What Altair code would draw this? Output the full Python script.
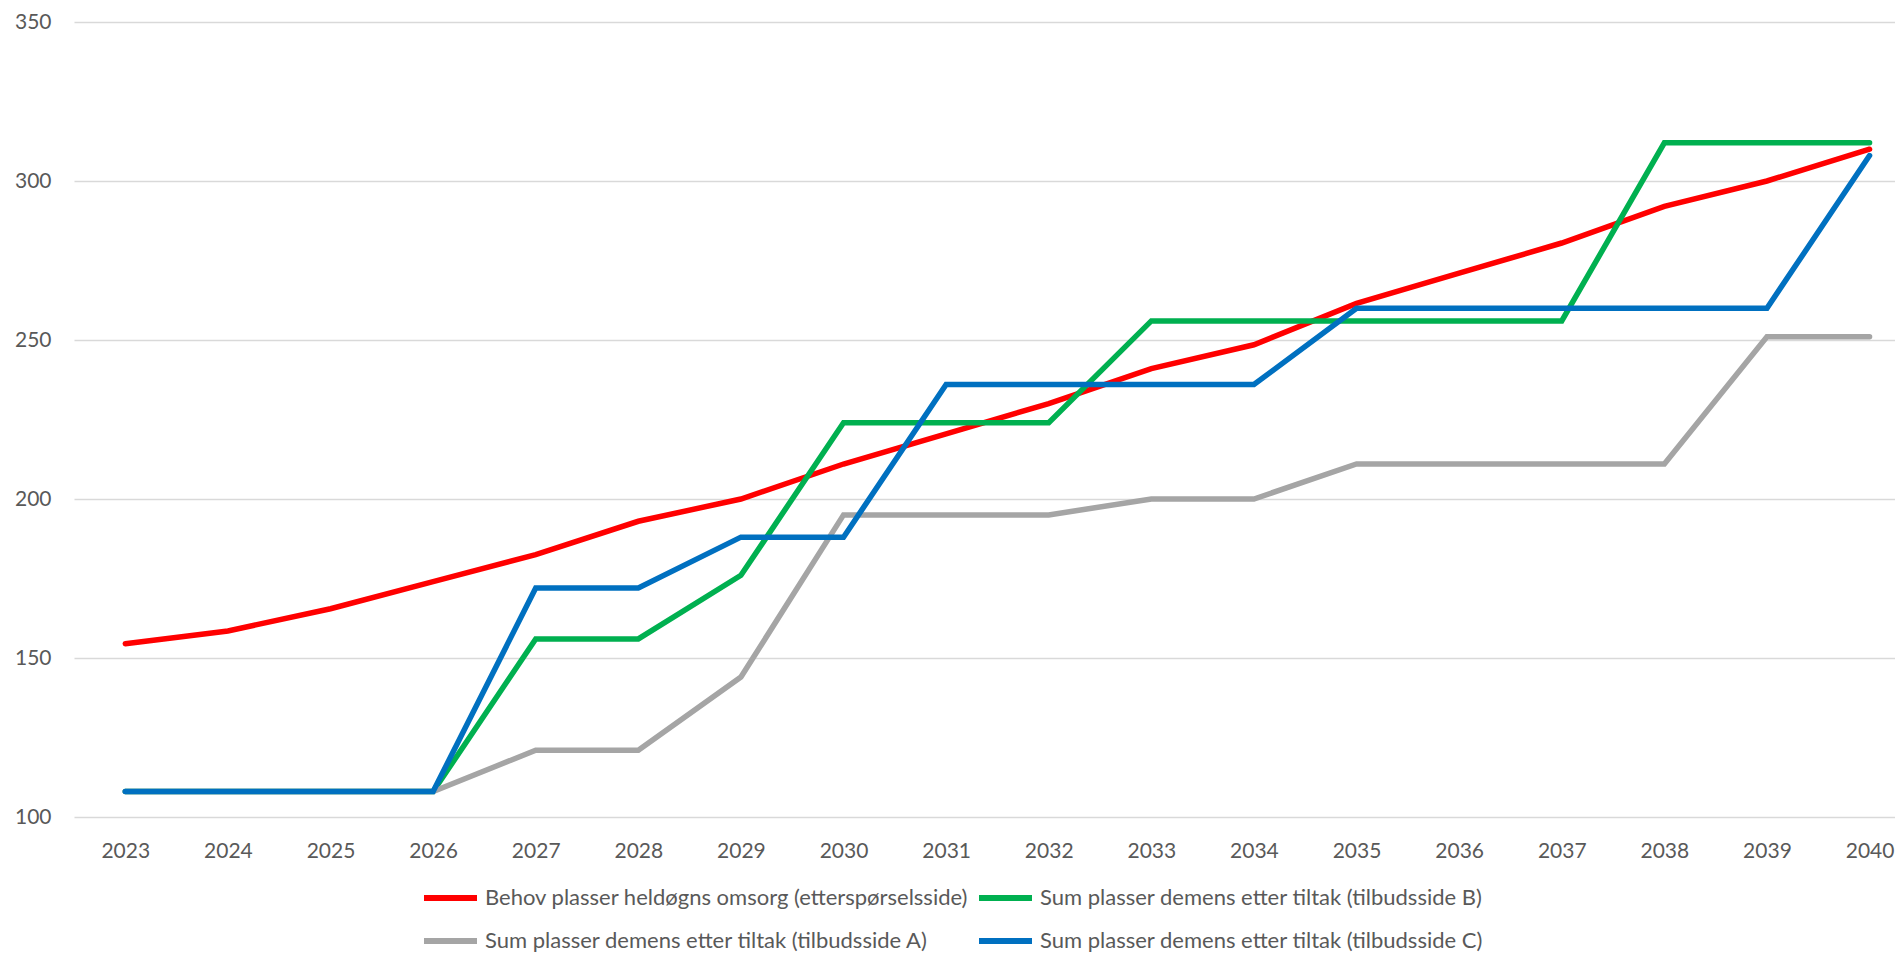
import altair as alt
import pandas as pd

years = list(range(2023, 2041))
behov = [154.5, 158.5, 165.5, 174, 182.5, 193, 200, 211, 220.5, 230, 241, 248.5, 261.5, 271, 280.5, 292, 300, 310]
sum_b = [108, 108, 108, 108, 156, 156, 176, 224, 224, 224, 256, 256, 256, 256, 256, 312, 312, 312]
sum_a = [108, 108, 108, 108, 121, 121, 144, 195, 195, 195, 200, 200, 211, 211, 211, 211, 251, 251]
sum_c = [108, 108, 108, 108, 172, 172, 188, 188, 236, 236, 236, 236, 260, 260, 260, 260, 260, 308]

names = [
    "Behov plasser heldøgns omsorg (etterspørselsside)",
    "Sum plasser demens etter tiltak (tilbudsside B)",
    "Sum plasser demens etter tiltak (tilbudsside A)",
    "Sum plasser demens etter tiltak (tilbudsside C)",
]
keys = ["0", "1", "2", "3"]
colors = ["#ff0000", "#00b050", "#a5a5a5", "#0070c0"]
series = [behov, sum_b, sum_a, sum_c]
y_ticks = [100, 150, 200, 250, 300, 350]

rows = []
for key, name, vals in zip(keys, names, series):
    for yr, v in zip(years, vals):
        rows.append({"year": yr, "value": v, "key": key, "series": name})
df = pd.DataFrame(rows)

FONT = "Lato"
TXT = "#595959"

label_expr = "[" + ", ".join("'" + n + "'" for n in names) + "][toNumber(datum.value)]"

x_enc = alt.X(
    "year:Q",
    scale=alt.Scale(domain=[2022.5, 2040.248], nice=False, zero=False),
    axis=alt.Axis(values=years, format="d", grid=False, ticks=False, domain=False,
                  labelFontSize=21, labelColor=TXT, labelFont=FONT, labelPadding=23,
                  labelFlush=False, labelOverlap=False, title=None),
)
y_enc = alt.Y(
    "value:Q",
    scale=alt.Scale(domain=[100, 350], nice=False, zero=False),
    axis=alt.Axis(values=y_ticks, grid=True, gridColor="#d9d9d9", gridWidth=1.5,
                  ticks=False, domain=False, labelFontSize=21, labelColor=TXT,
                  labelFont=FONT, labelPadding=23, title=None),
)
color_enc = alt.Color(
    "key:N",
    scale=alt.Scale(domain=keys, range=colors),
    legend=alt.Legend(
        orient="none", direction="horizontal", legendX=347, legendY=865, columns=2,
        title=None, symbolType="stroke", symbolSize=2809, symbolStrokeWidth=6,
        labelFontSize=22, labelFont=FONT, labelColor=TXT, labelLimit=1000,
        labelOffset=5, columnPadding=7, rowPadding=21, clipHeight=22, padding=0,
        labelExpr=label_expr,
    ),
)

layers = []
for key in keys:
    layers.append(
        alt.Chart(df)
        .transform_filter(alt.datum.key == key)
        .mark_line(strokeWidth=5.5, strokeCap="round")
        .encode(x=x_enc, y=y_enc, color=color_enc)
    )

chart = (
    alt.layer(*layers)
    .properties(
        width=1821, height=795,
        autosize=alt.AutoSizeParams(type="none"),
        padding={"left": 66, "top": 14, "right": 0, "bottom": 135},
        background="white",
    )
    .configure_view(stroke=None)
)

chart.save("out.html", embed_options={"renderer": "svg", "actions": False})
